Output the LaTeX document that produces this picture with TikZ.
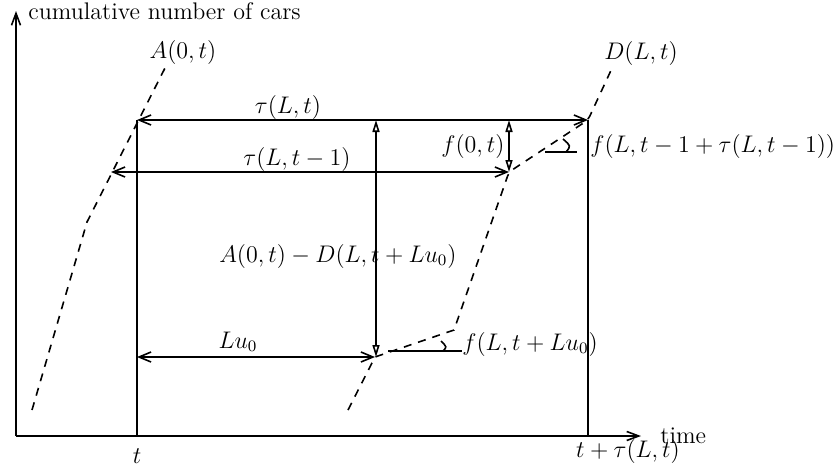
\documentclass[tikz,border=0pt]{standalone}
\usetikzlibrary{arrows.meta}
\begin{document}
\begin{tikzpicture}[x=0.5pt,y=-0.5pt,
  every node/.style={inner sep=0pt, font=\fontsize{12}{14}\selectfont},
  ln/.style={line width=0.8pt},
  dsh/.style={line width=0.8pt, dash pattern=on 4pt off 3.5pt},
  barb/.style={ln, {Straight Barb[length=6pt,width=5pt]}-{Straight Barb[length=6pt,width=5pt]}},
  tri/.style={ln, {Triangle[open,length=6pt,width=3.5pt]}-{Triangle[open,length=6pt,width=3.5pt]}},
  ax/.style={ln, -{Straight Barb[length=6pt,width=4.5pt]}}]
\useasboundingbox (0,0) rectangle (840,467);
% key points
\coordinate (O) at (16,436);
\coordinate (Ytop) at (16,11);
\coordinate (Xend) at (641,436);
\coordinate (tb) at (137,436);
\coordinate (tt) at (137,120);
\coordinate (Tb) at (588,436);
\coordinate (Tt) at (588,120);
\coordinate (A1) at (32,410);
\coordinate (A2) at (87,222);
\coordinate (A3) at (165,68);
\coordinate (Am) at (111,172);
\coordinate (D1) at (348,410);
\coordinate (D2) at (375,357);
\coordinate (D3) at (454,330);
\coordinate (D4) at (509,172);
\coordinate (D5) at (588,120);
\coordinate (D6) at (613,66);
\coordinate (V1) at (376,120);
\coordinate (V2) at (376,357);
\coordinate (F1) at (509,120);
\coordinate (H1) at (388,351);
\coordinate (H2) at (462,351);
\coordinate (G1) at (545,152);
\coordinate (G2) at (577,152);
% axes
\draw[ax] (O) -- (Ytop);
\draw[ax] (O) -- (Xend);
\draw[ln] (tb) -- (tt);
\draw[ln] (Tb) -- (Tt);
% curves
\draw[dsh] (A1) -- (A2) -- (A3);
\draw[dsh] (D1) -- (D2) -- (D3) [rounded corners=2pt] -- (D4) -- (D5) -- (D6);
% arrows
\draw[barb] (tt) -- (Tt);
\draw[barb] (Am) -- (D4);
\draw[barb] (tt |- D2) -- (D2);
\draw[tri] (V1) -- (V2);
\draw[tri] (F1) -- (D4);
% angle marks
\draw[ln] (H1) -- (H2);
\draw[ln] (443,351) .. controls (447,347) .. (441,341);
\draw[ln] (G1) -- (G2);
\draw[ln] (566,152) .. controls (571,146) .. (563,139);
% labels
\node[anchor=base west] (ylab) at (28,19) {cumulative number of cars};
\node[anchor=base west] (xlab) at (660,443) {time};
\node[anchor=base] (lA) at (183,58) {$A(0,t)$};
\node[anchor=base] (lD) at (641,59) {$D(L,t)$};
\node[anchor=base] (ltau) at (288,113) {$\tau(L,t)$};
\node[anchor=base] (ltau1) at (297,165) {$\tau(L,t-1)$};
\node[anchor=base east] (lf0) at (505,152) {$f(0,t)$};
\node[anchor=base west] (lfL) at (590,152) {$f(L,t-1+\tau(L,t-1))$};
\node[anchor=base] (lAD) at (338,262) {$A(0,t)-D(L,t+Lu_0)$};
\node[anchor=base] (lLu) at (238,348) {$Lu_0$};
\node[anchor=base west] (lfLu) at (462,350) {$f(L,t+Lu_0)$};
\node[anchor=base] (lt) at (137,463) {$t$};
\node[anchor=base] (lT) at (628,457) {$t+\tau(L,t)$};
\end{tikzpicture}
\end{document}
